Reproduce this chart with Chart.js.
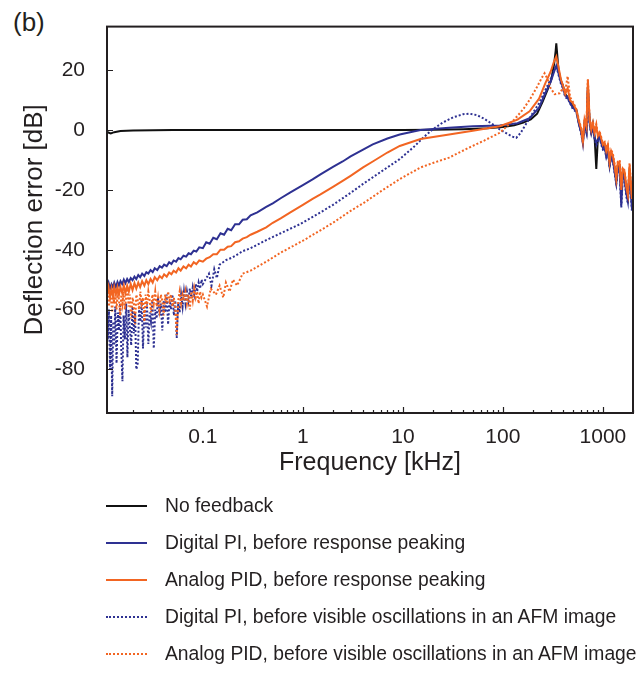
<!DOCTYPE html>
<html>
<head>
<meta charset="utf-8">
<script src="https://cdn.jsdelivr.net/npm/chart.js@4"></script>
<style>
  html, body { margin: 0; padding: 0; background: #fff; }
  body { width: 644px; height: 675px; position: relative; overflow: hidden;
         font-family: "Liberation Sans", Arial, sans-serif; color: #231f20; }
  #panel { position: absolute; left: 13px; top: 7px; font-size: 26px; }
  #wrap { position: absolute; left: 0; top: 0; width: 644px; height: 490px; }
  #legend { position: absolute; left: 106px; top: 487px; font-size: 19.3px; white-space: nowrap; }
  .row { display: flex; align-items: center; height: 37px; }
  .swatch { width: 41px; margin-right: 18px; border-top-width: 2px; }
</style>
</head>
<body>
<div id="panel">(b)</div>
<div id="wrap"><canvas id="bode"></canvas></div>
<div id="legend"></div>
<script>
// axis ticks
const xMajor = [0.1, 1, 10, 100, 1000];
const yTicks = [-80, -60, -40, -20, 0, 20];

// No feedback
const noFbFreq = [0.011, 0.0115, 0.012, 0.013, 0.015, 0.02, 0.05, 0.1, 1, 10, 20, 40, 70, 100, 130, 160, 190, 220, 250, 280, 305, 325, 337, 342, 348, 360, 380];
const noFbDb   = [-0.5, -0.9, -1.1, -0.7, -0.3, -0.1, 0, 0, 0, 0, 0.1, 0.3, 0.6, 1.0, 1.6, 2.5, 3.6, 5.5, 9.5, 13.5, 17, 22, 26.5, 29, 26, 20, 16.5];

// solid curves (before response peaking)
const solidFreq = [0.011, 0.0114, 0.0118, 0.0122, 0.0126, 0.013, 0.0135, 0.014, 0.0145, 0.015, 0.0156, 0.0162, 0.0168, 0.0175, 0.0182, 0.019, 0.0198, 0.0207, 0.0216, 0.0226, 0.0236, 0.0247, 0.026, 0.0272, 0.0285, 0.03, 0.0315, 0.033, 0.035, 0.037, 0.039, 0.041, 0.0435, 0.046, 0.0485, 0.051, 0.054, 0.057, 0.06, 0.064, 0.068, 0.072, 0.076, 0.081, 0.086, 0.092, 0.1,
  0.108, 0.117, 0.127, 0.138, 0.15, 0.163, 0.177, 0.192, 0.21, 0.23, 0.25, 0.275, 0.3, 0.35, 0.43, 0.5, 0.6, 0.75, 1, 1.25, 1.5, 2, 2.5, 3, 4, 5, 7, 9.3, 15, 29, 50, 93, 140, 185, 230, 266, 300, 325, 342, 360, 380];
const digitalDb = [-52.5, -51, -53, -51.5, -52.5, -51, -52.5, -50.8, -52, -50.5, -51.5, -50, -51.2, -49.8, -50.8, -49.5, -50.2, -49, -49.8, -48.5, -49.2, -48, -48.8, -47.5, -48, -46.8, -47.5, -46.2, -46.8, -45.5, -46, -45, -45.5, -44.2, -44.8, -43.6, -44, -42.8, -43.2, -42, -42.3, -41.2, -41.5, -40.3, -40.6, -39.2, -39.5,
  -37.5, -38, -36, -36.5, -34.5, -35, -33, -33.5, -31.5, -31.5, -30, -29.8, -28.5, -27.5, -25.7, -24.5, -22.8, -20.8, -18.4, -16.5, -14.8, -12.3, -10.5, -8.8, -6.5, -4.8, -2.8, -1.5, 0, 0.8, 1.3, 1.5, 2.3, 4, 7.5, 12.4, 16, 19.5, 21.5, 19, 16];
const analogDb = [-55, -52.5, -56, -53, -55.5, -52.5, -55, -52.5, -55, -52.5, -54.5, -52, -54.5, -52, -54, -51.5, -53.5, -51.2, -53, -51, -52.5, -50.5, -52, -50.2, -51.5, -49.8, -51, -49.2, -50.2, -48.8, -49.5, -48.2, -49, -47.6, -48.2, -47, -47.6, -46.2, -47, -45.6, -46.2, -45, -45.6, -44.2, -44.8, -43.6, -44,
  -43, -42.5, -41.5, -41.5, -40, -40, -39, -38.8, -37.5, -37.2, -36.3, -35.8, -35, -34, -32.5, -31, -29.5, -27.5, -25, -23, -21.5, -19, -17, -15.3, -12.5, -10.5, -7.5, -5.3, -3, -1.5, -0.2, 1.3, 3.5, 6.3, 10.5, 15.7, 19.5, 23, 24.6, 21, 17];

// dotted curves (before visible oscillations): shared low-frequency grid
const lowFreq = [0.011, 0.0112, 0.0115, 0.0118, 0.0121, 0.0124, 0.0127, 0.013, 0.0133, 0.0137,
  0.0141, 0.0145, 0.0149, 0.0153, 0.0157, 0.0161, 0.0166, 0.0171, 0.0176, 0.0181,
  0.0186, 0.0192, 0.0198, 0.0204, 0.021, 0.0216, 0.0223, 0.023, 0.0237, 0.0244,
  0.0252, 0.026, 0.0268, 0.0276, 0.0285, 0.0294, 0.0303, 0.0313, 0.0323, 0.0334,
  0.0345, 0.0356, 0.0368, 0.038, 0.0393, 0.0406, 0.042, 0.0434, 0.0449, 0.0464,
  0.048, 0.0496, 0.0513, 0.053, 0.0548, 0.0567, 0.0586, 0.0606, 0.0627, 0.0648,
  0.067, 0.0693, 0.0717, 0.0741, 0.0767, 0.0793, 0.082, 0.0848, 0.0877, 0.0907,
  0.0938, 0.097, 0.1];
const digitalVisLow = [-58, -70, -60, -80, -62, -89, -64, -72, -59, -78,
  -61, -67, -58, -74, -84, -62, -70, -58, -76, -60,
  -66, -72, -59, -68, -61, -80, -78, -60, -64, -57,
  -73, -60, -66, -58, -71.5, -61, -64, -57, -73, -60,
  -63, -56, -62, -58, -67, -57, -61, -55, -65, -57,
  -60, -55, -62, -57, -69.5, -58, -61, -55, -59, -54,
  -58, -54, -57, -53, -56, -52.5, -55, -51.5, -54, -51,
  -53, -50, -51.5];
const analogVisLow = [-56, -53, -59, -54, -57, -61, -54, -58, -55, -60,
  -54, -57, -62, -55, -58, -54, -60, -56, -53, -59,
  -55, -63, -56, -58, -65, -55, -57, -60, -54, -58,
  -56, -64, -55, -59, -54, -57, -61, -55, -58, -54,
  -59, -56, -60, -55, -57, -62, -55, -58, -54, -57,
  -55, -59, -56, -60, -68.5, -57, -54, -58, -55, -57,
  -54, -58, -55, -60, -54, -57, -53, -56, -54, -58,
  -54, -56, -55];

// Digital PI, before visible oscillations (above 0.1 kHz)
const digitalVisFreq = [0.115, 0.122, 0.13, 0.138, 0.147, 0.17, 0.2, 0.25, 0.3, 0.43, 0.6, 0.93, 1.5, 2, 3, 4, 6, 9.3, 13, 16, 19.8,
  25, 32, 40, 46, 55, 65, 80, 93, 110, 125, 136, 150, 185, 230, 266, 300, 325, 342, 360, 380];
const digitalVisDb = [-48, -52, -46.5, -49.5, -45, -43.5, -42.5, -40.5, -39.5, -36.8, -34.5, -31.5, -27.5, -25, -21, -18, -14, -9.7, -5.5, -2.5, 0.2,
  2.5, 4.3, 5.3, 5.5, 5, 3.8, 1.8, 0.2, -1.2, -2.2, -2.6, -1, 4, 9, 13.4, 17, 20, 21.5, 18.5, 15.5];

// Analog PID, before visible oscillations (above 0.1 kHz)
const analogVisFreq = [0.11, 0.12, 0.135, 0.147, 0.16, 0.17, 0.185, 0.2, 0.22, 0.25, 0.3, 0.43, 0.6, 1, 1.5, 2, 3, 4, 6, 9.3,
  15, 20, 29, 45, 65, 93, 130, 160, 185, 220, 245, 261, 280, 300, 330, 369];
const analogVisDb = [-59, -53, -55, -52, -56, -51, -54, -50, -52, -48, -47, -44, -41, -37, -33.5, -31, -27, -24.5, -20.5, -16.4,
  -12.5, -11, -9.2, -6, -3.5, -0.9, 3.5, 7, 10.1, 14.5, 17.5, 19, 17, 14, 12, 12.3];

// resonance tail above 400 kHz
const tailFreq = [398, 420, 444, 470, 500, 542, 575, 608, 631, 656, 685, 708, 736, 765, 794, 825, 859, 890, 927, 965, 1000, 1040, 1080, 1120, 1167, 1210, 1260, 1310, 1361, 1410, 1469, 1527, 1580, 1648, 1710, 1778, 1849, 1900, 1950, 2000];
const noFbTail       = [15, 12, 11, 9.5, 8, 6.8, 2.5, -0.5, -3, 2.5, 0, 14.5, 3, -0.5, 2, -2, -13, -3, -1.5, -4, -5.5, -5, -8, -6, -11.5, -8, -9.5, -13, -17, -12, -12, -21, -14, -15, -20, -22.5, -13, -19, -24, -18];
const digitalTail    = [14.5, 11.5, 11, 9, 7.5, 6.5, 2, -1, -4.5, 2, -0.5, 14, 2.5, -1, 1.5, -2.5, -4, -3.5, -2, -4.5, -6, -5.5, -8.5, -6.5, -12, -8.5, -10, -14, -17.5, -13, -12.5, -25, -15, -16, -21, -24, -14, -20, -26, -19];
const analogTail     = [15, 12, 14, 10, 9, 6.8, 3, 0.2, -4.2, 3.5, 1, 16.8, 3.5, 0, 2.4, -1, 1.4, -2, -0.9, -3, -5, -4.2, -7, -5, -10.8, -7, -8.6, -12, -16.4, -11, -10.8, -20, -13, -14, -19, -21.8, -11.9, -18, -23, -17];
const digitalVisTail = [14, 11, 10.5, 9, 7, 6, 2.5, -1.5, -4, 1.5, -1, 13.5, 2, -1.5, 1, -3, -5, -4, -2.5, -5, -6.5, -6, -9, -7, -12.5, -9, -10.5, -14.5, -18, -13.5, -13, -26, -15.5, -16.5, -22, -24.5, -14.5, -21, -27, -20];
const analogVisTail  = [14, 13, 18, 11, 9.5, 7, 3.5, 0.5, -3.5, 4, 1.5, 17, 4, 0.5, 3, -0.5, 2, -1.5, -0.5, -2.5, -4.5, -4, -6.5, -4.5, -10, -6.5, -8, -11.5, -15.5, -10.5, -10, -19, -12.5, -13.5, -18, -21, -11, -17, -22, -16];

const NAVY = '#2e3192';
const ORANGE = '#f26522';
const INK = '#231f20';
const FONT = '"Liberation Sans", Arial, sans-serif';

function pts(f, d) { return f.map((v, i) => ({ x: v, y: d[i] })); }

// minor ticks 2..9 in each decade
const xTicks = [];
[0.01, 0.1, 1, 10, 100, 1000].forEach(d => {
  for (let k = 1; k <= 9; k++) {
    const v = +(d * k).toPrecision(3);
    if (v >= 0.011 && v <= 2000) xTicks.push(v);
  }
});

const series = [
  { label: 'No feedback', color: '#111111', dash: [], order: 4,
    f: noFbFreq.concat(tailFreq), d: noFbDb.concat(noFbTail) },
  { label: 'Digital PI, before response peaking', color: NAVY, dash: [], order: 3,
    f: solidFreq.concat(tailFreq), d: digitalDb.concat(digitalTail) },
  { label: 'Analog PID, before response peaking', color: ORANGE, dash: [], order: 0,
    f: solidFreq.concat(tailFreq), d: analogDb.concat(analogTail) },
  { label: 'Digital PI, before visible oscillations in an AFM image', color: NAVY, dash: [2, 2], order: 2,
    f: lowFreq.concat(digitalVisFreq, tailFreq), d: digitalVisLow.concat(digitalVisDb, digitalVisTail) },
  { label: 'Analog PID, before visible oscillations in an AFM image', color: ORANGE, dash: [2, 2], order: 1,
    f: lowFreq.concat(analogVisFreq, tailFreq), d: analogVisLow.concat(analogVisDb, analogVisTail) },
];

const frameTicks = {
  id: 'frameTicks',
  afterDatasetsDraw(chart) {
    const { ctx, chartArea: a, scales: { x, y } } = chart;
    ctx.save();
    ctx.strokeStyle = INK;
    ctx.lineWidth = 1.2;
    ctx.beginPath();
    x.ticks.forEach(t => {
      const px = Math.round(x.getPixelForValue(t.value)) + 0.5;
      const len = xMajor.includes(t.value) ? 6 : 3;
      ctx.moveTo(px, a.bottom); ctx.lineTo(px, a.bottom - len);
    });
    y.ticks.forEach(t => {
      const py = Math.round(y.getPixelForValue(t.value)) + 0.5;
      ctx.moveTo(a.left, py); ctx.lineTo(a.left + 6, py);
    });
    ctx.stroke();
    ctx.lineWidth = 2;
    ctx.strokeRect(a.left, a.top, a.right - a.left, a.bottom - a.top);
    ctx.restore();
  }
};

const chart = new Chart(document.getElementById('bode'), {
  type: 'line',
  data: {
    datasets: series.map(s => ({
      label: s.label,
      data: pts(s.f, s.d),
      borderColor: s.color,
      borderDash: s.dash,
      borderWidth: 2,
      pointRadius: 0,
      tension: 0,
      fill: false,
      order: s.order,
    })),
  },
  options: {
    responsive: true,
    maintainAspectRatio: false,
    animation: false,
    layout: { padding: { top: 23, right: 11, left: 0, bottom: 0 } },
    plugins: { legend: { display: false }, tooltip: { enabled: false } },
    scales: {
      x: {
        type: 'logarithmic',
        min: 0.011, max: 2000,
        afterBuildTicks: s => { s.ticks = xTicks.map(v => ({ value: v })); },
        afterFit: s => { s.height = 77; },
        grid: { display: false },
        border: { display: false },
        ticks: {
          autoSkip: false, maxRotation: 0, padding: 4, color: INK,
          font: { family: FONT, size: 21 },
          callback: v => xMajor.includes(v) ? String(v) : '',
        },
        title: { display: true, text: 'Frequency [kHz]', color: INK,
                 font: { family: FONT, size: 25 }, padding: { top: 0, bottom: 12 } },
      },
      y: {
        type: 'linear',
        min: -94.6, max: 34.6,
        afterBuildTicks: s => { s.ticks = yTicks.map(v => ({ value: v })); },
        afterFit: s => { s.width = 107; },
        grid: { display: false },
        border: { display: false },
        ticks: { padding: 14, color: INK, font: { family: FONT, size: 21 } },
        title: { display: true, text: 'Deflection error [dB]', color: INK,
                 font: { family: FONT, size: 26 }, padding: { top: 19, bottom: 0 } },
      },
    },
  },
  plugins: [frameTicks],
});

// legend, one entry per row, built from the datasets
const legend = document.getElementById('legend');
chart.data.datasets.forEach(ds => {
  const row = document.createElement('div');
  row.className = 'row';
  const sw = document.createElement('span');
  sw.className = 'swatch';
  sw.style.borderTopStyle = ds.borderDash.length ? 'dotted' : 'solid';
  sw.style.borderTopColor = ds.borderColor;
  const txt = document.createElement('span');
  txt.textContent = ds.label;
  row.append(sw, txt);
  legend.appendChild(row);
});
</script>
</body>
</html>
